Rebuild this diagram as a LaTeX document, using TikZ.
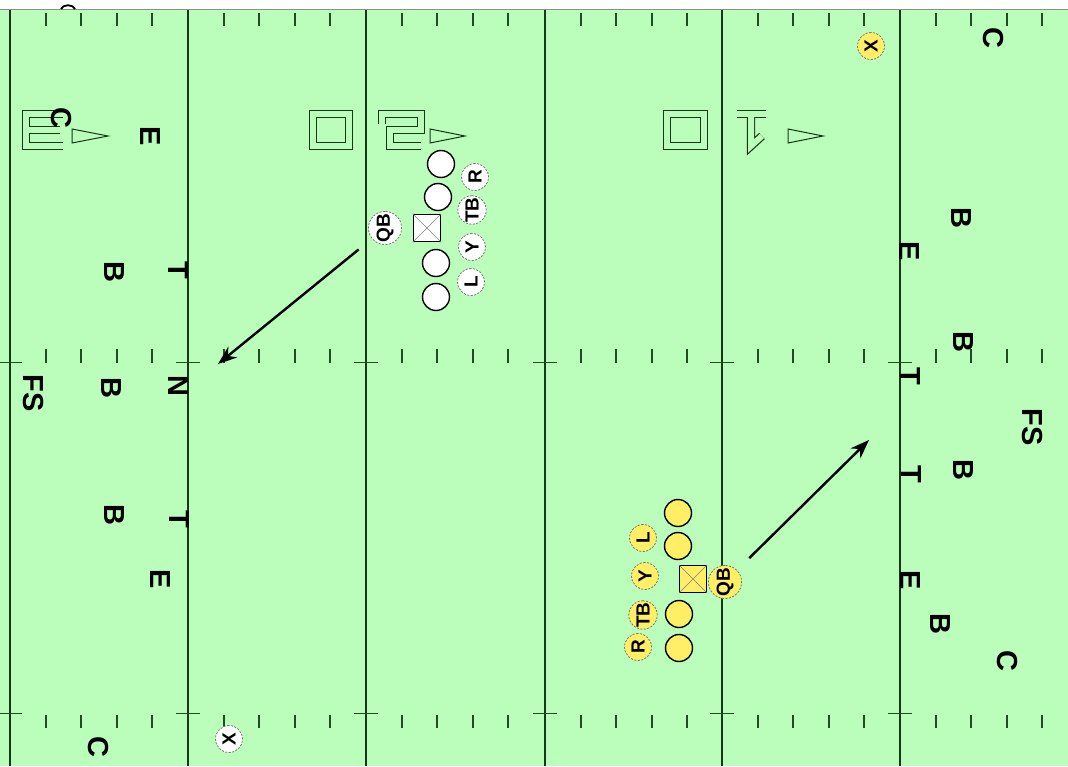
\documentclass[tikz,border=0pt]{standalone}
\usepackage{fontspec}
\setmainfont{Liberation Sans}
\usetikzlibrary{arrows.meta}
\definecolor{fGreen}{HTML}{BBFDBB}
\definecolor{fLine}{HTML}{163816}
\definecolor{fTick}{HTML}{1F4D1F}
\definecolor{pYellow}{HTML}{FFEE66}

\begin{document}
\begin{tikzpicture}[x=1pt, y=-1pt,
    lman/.style={circle, draw, line width=1.4pt, minimum size=27pt, inner sep=0pt},
    skill/.style={circle, draw=black!55, dash pattern=on 2pt off 1.5pt, line width=0.8pt,
      minimum size=27pt, inner sep=0pt, rotate=90, font=\fontsize{19}{19}\selectfont\bfseries},
    ctr/.style={draw, line width=1.4pt, minimum size=27pt, inner sep=0pt},
    dman/.style={rotate=-90, inner sep=0pt, font=\fontsize{29}{29}\selectfont\bfseries},
    digit/.style={draw=fLine, line width=1.2pt, double=fGreen, double distance=6pt},
    pointer/.style={draw=fLine, line width=1pt},
    route/.style={line width=2.4pt, -{Stealth[length=19pt,width=14pt]}, shorten <=17pt}]
    \useasboundingbox (0,0) rectangle (1068,766);
    \fill[white] (0,0) rectangle (1068,766);
    \fill[fGreen] (0,10) rectangle (1068,766);
    \draw[black!45, line width=1.5pt] (0,9.5) -- (1068,9.5);
    \draw[line width=1.8pt] (61,9) .. controls (63,4) and (73,4) .. (75,9);
    % yard lines and hashes
    \foreach \yl in {10,188,366,545,722,900} {
      \draw[fLine, line width=2pt] (\yl,10) -- (\yl,766);
      \foreach \k in {1,...,4} {
        \draw[fTick, line width=2pt] (\yl+35.6*\k,13) -- ++(0,13);
        \draw[fTick, line width=2pt] (\yl+35.6*\k,349) -- ++(0,14);
        \draw[fTick, line width=2pt] (\yl+35.6*\k,715) -- ++(0,13);
      }
      \draw[fTick, line width=1pt] (\yl-12,362) -- (\yl+12,362);
      \draw[fTick, line width=1pt] (\yl-12,713) -- (\yl+12,713);
    }
    % yard numbers
    \draw[digit] (63,114) -- (26,114) -- (26,146) -- (63,146);
    \draw[digit] (29,130) -- (60,130);
    \draw[pointer] (72,129) -- (108,136) -- (72,143) -- cycle;
    \draw[digit] (313,114) rectangle (349,146);
    \draw[digit] (382,124) -- (382,114) -- (421,114) -- (421,130) -- (390,130) -- (390,146) -- (421,146);
    \draw[pointer] (430,129) -- (465,136) -- (430,143) -- cycle;
    \draw[digit] (667,114) rectangle (704,146);
    \draw[digit] (737,114) -- (766,114);
    \draw[digit] (751,117) -- (751,146) -- (762,136);
    \draw[pointer] (788,129) -- (823,136) -- (788,143) -- cycle;
    % defense left
    \node[dman] (lc1) at (61,118) {C};
    \node[dman] (le1) at (150,136) {E};
    \node[dman] (lb1) at (114,272) {B};
    \node[dman] (lt1) at (178,270) {T};
    \node[dman] (ln)  at (178,386) {N};
    \node[dman] (lb2) at (111,388) {B};
    \node[dman] (lfs) at (33,393) {FS};
    \node[dman] (lb3) at (114,515) {B};
    \node[dman] (lt2) at (179,519) {T};
    \node[dman] (le2) at (160,579) {E};
    \node[dman] (lc2) at (98,747) {C};
    % defense right
    \node[dman] (rc1) at (993,38) {C};
    \node[dman] (rb1) at (961,218) {B};
    \node[dman] (re1) at (909,251) {E};
    \node[dman] (rb2) at (963,342) {B};
    \node[dman] (rt1) at (910,376) {T};
    \node[dman] (rfs) at (1032,427) {FS};
    \node[dman] (rb3) at (963,470) {B};
    \node[dman] (rt2) at (911,474) {T};
    \node[dman] (re2) at (910,580) {E};
    \node[dman] (rb4) at (940,624) {B};
    \node[dman] (rc2) at (1007,661) {C};
    % white offense
    \node[lman, fill=white] (wg1) at (441,164) {};
    \node[lman, fill=white] (wg2) at (438,197) {};
    \node[lman, fill=white] (wg3) at (436,263) {};
    \node[lman, fill=white] (wg4) at (436,297) {};
    \node[ctr, fill=white] (wc) at (427,228) {};
    \draw[black!50, line width=0.6pt] (wc.north west) -- (wc.south east) (wc.north east) -- (wc.south west);
    \node[skill, fill=white] (wqb) at (385,228) {QB};
    \node[skill, fill=white] (wr)  at (475,177) {R};
    \node[skill, fill=white] (wtb) at (472,210) {TB};
    \node[skill, fill=white] (wy)  at (472,247) {Y};
    \node[skill, fill=white] (wl)  at (471,282) {L};
    \node[skill, fill=white] (wx)  at (229,739) {X};
    % yellow offense
    \node[lman, fill=pYellow] (yg1) at (678,513) {};
    \node[lman, fill=pYellow] (yg2) at (678,546) {};
    \node[lman, fill=pYellow] (yg3) at (679,614) {};
    \node[lman, fill=pYellow] (yg4) at (679,648) {};
    \node[ctr, fill=pYellow] (yc) at (693,579) {};
    \draw[black!50, line width=0.6pt] (yc.north west) -- (yc.south east) (yc.north east) -- (yc.south west);
    \node[skill, fill=pYellow] (yqb) at (725,582) {QB};
    \node[skill, fill=pYellow] (yl)  at (643,538) {L};
    \node[skill, fill=pYellow] (yy)  at (645,576) {Y};
    \node[skill, fill=pYellow] (ytb) at (643,615) {TB};
    \node[skill, fill=pYellow] (yr)  at (638,647) {R};
    \node[skill, fill=pYellow] (yx)  at (871,46) {X};
    % routes
    \coordinate (wend) at (218,364);
    \coordinate (yend) at (869,440);
    \draw[route] (wqb) -- (wend);
    \draw[route] (yqb) -- (yend);
\end{tikzpicture}
\end{document}
